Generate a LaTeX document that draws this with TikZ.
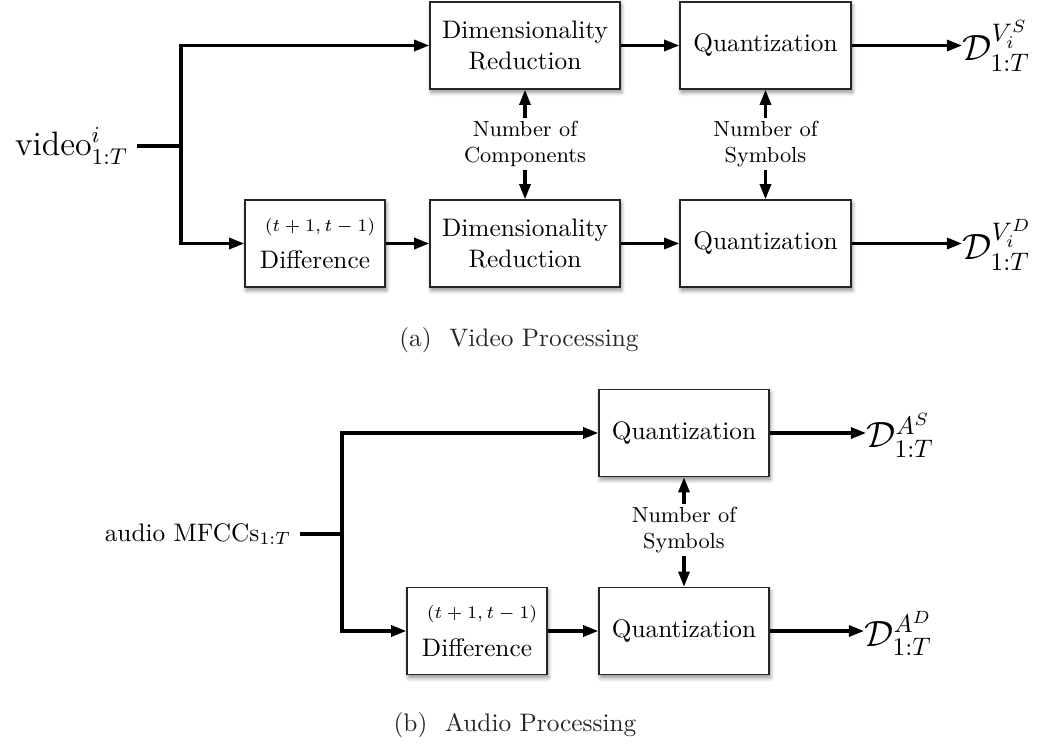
\documentclass[tikz,border=0pt]{standalone}
\usepackage{amsmath}
\usepackage{tikz}
\usetikzlibrary{arrows.meta,shadows.blur,positioning}

\begin{document}
\begin{tikzpicture}[x=0.395pt,y=-0.395pt,blk/.style={draw=black!85,fill=white,line width=0.6pt,align=center,inner sep=0pt,minimum width=#1*0.395pt,minimum height=87*0.395pt,blur shadow={shadow xshift=0.5pt,shadow yshift=-1.3pt,shadow blur radius=1.6pt,shadow blur steps=6,shadow opacity=45}},wire/.style={line width=1.2pt},arr/.style={wire,-{Triangle[length=6pt,width=4.4pt]}},nlab/.style={font=\fontsize{8.6}{10.6}\selectfont,align=center,inner sep=1pt},outlab/.style={font=\Large,anchor=base west,inner sep=0pt},captext/.style={text=black!85}]
\useasboundingbox (0,0) rectangle (1037,746);
% (a) video
\node[font=\fontsize{13.4}{16}\selectfont,anchor=east] (video) at (137,146) {video$^{i}_{1:T}$};
\coordinate (vsplit) at (181,146);
\node[blk=190] (dr1) at (525,45.5) {Dimensionality\\Reduction};
\node[blk=171] (q1) at (765.5,45.5) {Quantization};
\node[blk=140] (vdiff) at (315,243.5) {\hspace{4pt}{\fontsize{7.4}{9}\selectfont $(t+1,t-1)$}\\[3pt]Difference};
\node[blk=190] (dr2) at (525,243.5) {Dimensionality\\Reduction};
\node[blk=171] (q2) at (765.5,243.5) {Quantization};
\node[nlab] (ncomp) at (525,144) {Number of\\Components};
\node[nlab] (nsym) at (765.5,144) {Number of\\Symbols};
\node[outlab] (vs) at (962,61) {$\mathcal{D}^{V_i^S}_{1:T}$};
\node[outlab] (vd) at (962,260) {$\mathcal{D}^{V_i^D}_{1:T}$};
\draw[wire] (video) -- (vsplit);
\draw[arr] (vsplit) |- (dr1);
\draw[arr] (vsplit) |- (vdiff);
\draw[arr] (vdiff) -- (dr2);
\draw[arr] (dr1) -- (q1);
\draw[arr] (dr2) -- (q2);
\draw[arr] (q1.east) -- (q1.east -| vs.west);
\draw[arr] (q2.east) -- (q2.east -| vd.west);
\foreach \l/\a/\b in {ncomp/dr1/dr2,nsym/q1/q2} {
   \draw[arr] (\l) -- (\a);
   \draw[arr] (\l) -- (\b);
}
\node[captext] (capa) at (519,340) {(a)\hspace{7pt}Video Processing};
% (b) audio
\node[anchor=east] (audio) at (300,534) {audio MFCCs$_{1:T}$};
\coordinate (asplit) at (342,534);
\node[blk=170] (q3) at (684,433) {Quantization};
\node[blk=140] (adiff) at (477,631) {\hspace{4pt}{\fontsize{7.4}{9}\selectfont $(t+1,t-1)$}\\[3pt]Difference};
\node[blk=170] (q4) at (684,631) {Quantization};
\node[nlab] (nsym2) at (684,530) {Number of\\Symbols};
\node[outlab] (as) at (866,448) {$\mathcal{D}^{A^S}_{1:T}$};
\node[outlab] (ad) at (864,646) {$\mathcal{D}^{A^D}_{1:T}$};
\draw[wire] (audio) -- (asplit);
\draw[arr] (asplit) |- (q3);
\draw[arr] (asplit) |- (adiff);
\draw[arr] (adiff) -- (q4);
\draw[arr] (q3.east) -- (q3.east -| as.west);
\draw[arr] (q4.east) -- (q4.east -| ad.west);
\draw[arr] (nsym2) -- (q3);
\draw[arr] (nsym2) -- (q4);
\node[captext] (capb) at (515,725) {(b)\hspace{7pt}Audio Processing};
\end{tikzpicture}
\end{document}
